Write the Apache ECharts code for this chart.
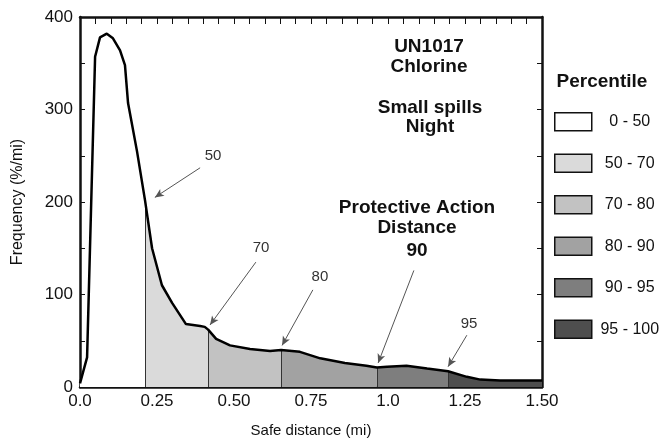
<!DOCTYPE html>
<html>
<head>
<meta charset="utf-8">
<script src="https://cdn.jsdelivr.net/npm/echarts@6/dist/echarts.min.js"></script>
<style>
  html, body { margin: 0; padding: 0; background: #fff; }
  #container { width: 666px; height: 447px; }
</style>
</head>
<body>
<div id="container"></div>
<script>
// frequency curve: [safe distance (mi), frequency (%/mi)]
var curve = [
  [0.000, 4], [0.023, 32], [0.049, 357], [0.065, 378], [0.087, 382],
  [0.107, 377], [0.130, 364], [0.146, 348], [0.156, 307], [0.185, 255],
  [0.211, 202], [0.234, 150], [0.266, 110], [0.299, 91], [0.344, 68],
  [0.390, 66], [0.405, 65], [0.416, 62], [0.442, 52], [0.487, 45],
  [0.552, 41], [0.617, 39], [0.653, 40], [0.714, 38], [0.780, 31],
  [0.860, 26], [0.930, 23], [0.964, 21], [0.997, 22], [1.060, 23],
  [1.127, 20], [1.195, 17], [1.256, 11], [1.300, 8], [1.364, 7],
  [1.500, 7]
];
// percentile boundaries on the x axis
var bounds = [0, 0.211, 0.416, 0.653, 0.964, 1.195, 1.5];
var bandNames = ['0 - 50', '50 - 70', '70 - 80', '80 - 90', '90 - 95', '95 - 100'];
var bandColors = ['#ffffff', '#dadada', '#c2c2c2', '#a2a2a2', '#7e7e7e', '#4e4e4e'];
var xTickLabels = {0: '0.0', 0.25: '0.25', 0.5: '0.50', 0.75: '0.75', 1: '1.0', 1.25: '1.25', 1.5: '1.50'};
// arrows: [label, start x, start y, end x, end y, label x, label y]
var arrows = [
  ['50', 0.390, 237, 0.243, 205, 0.432, 250],
  ['70', 0.571, 135, 0.422, 67, 0.588, 150],
  ['80', 0.756, 105, 0.656, 45, 0.779, 119],
  ['',   1.084, 126, 0.968, 26, 0, 0],
  ['95', 1.256, 56, 1.195, 22, 1.263, 68]
];

var dom = document.getElementById('container');
var myChart = echarts.init(dom, null, { renderer: 'canvas' });
var font = 'Liberation Sans, Arial, sans-serif';

function yAt(x) {
  for (var i = 0; i < curve.length; i++) {
    if (curve[i][0] === x) return curve[i][1];
  }
  return 0;
}

var series = [];
for (var b = 0; b < bandNames.length; b++) {
  var lo = bounds[b], hi = bounds[b + 1];
  series.push({
    name: bandNames[b],
    type: 'line',
    data: curve.filter(function (p) { return p[0] >= lo && p[0] <= hi; }),
    symbol: 'none',
    lineStyle: { width: 0, color: bandColors[b] },
    itemStyle: { color: bandColors[b] },
    areaStyle: { color: bandColors[b], opacity: 1 },
    silent: true,
    z: 2
  });
}

var dividers = bounds.slice(1, bounds.length - 1).map(function (x) {
  return [{ coord: [x, 0] }, { coord: [x, yAt(x)] }];
});

series.push({
  name: 'curve',
  type: 'line',
  data: curve,
  symbol: 'none',
  lineStyle: { width: 2.5, color: '#000' },
  z: 5,
  markLine: {
    silent: true,
    symbol: 'none',
    label: { show: false },
    lineStyle: { color: '#333', width: 1, type: 'solid' },
    data: dividers
  }
});

series.push({
  name: 'arrows',
  type: 'line',
  data: [],
  z: 6,
  markLine: {
    silent: true,
    symbol: ['none', 'arrow'],
    symbolSize: [6, 9],
    label: { show: false },
    lineStyle: { color: '#555', width: 1, type: 'solid' },
    data: arrows.map(function (a) {
      return [{ coord: [a[1], a[2]] }, { coord: [a[3], a[4]] }];
    })
  },
  markPoint: {
    silent: true,
    symbolSize: 0,
    label: { show: true, color: '#333', fontSize: 15, fontFamily: font, position: 'inside' },
    data: arrows.filter(function (a) { return a[0] !== ''; }).map(function (a) {
      return { coord: [a[5], a[6]], value: a[0] };
    })
  }
});

var boldText = { fontFamily: font, fontWeight: 'bold', fontSize: 19, fill: '#111', textAlign: 'center', textVerticalAlign: 'middle' };
function txt(s, x, y, size) {
  var st = Object.assign({}, boldText, { text: s });
  if (size) st.fontSize = size;
  return { type: 'text', x: x, y: y, style: st };
}

var tickStyle = { color: '#111', width: 1 };

var option = {
  backgroundColor: '#fff',
  animation: false,
  grid: { left: 80, right: 124, top: 17, bottom: 60 },
  legend: {
    data: bandNames,
    orient: 'vertical',
    left: 554,
    top: 112,
    padding: 0,
    icon: 'rect',
    itemWidth: 37,
    itemHeight: 18,
    itemGap: 22,
    selectedMode: false,
    itemStyle: { borderColor: '#111', borderWidth: 1.5 },
    formatter: function (n) { return '{c|' + n + '}'; },
    textStyle: {
      fontFamily: font, fontSize: 16, color: '#111',
      rich: { c: { width: 66, align: 'center', fontFamily: font, fontSize: 16, color: '#111', lineHeight: 18 } }
    }
  },
  graphic: [
    txt('Percentile', 602, 82),
    txt('UN1017', 429, 47),
    txt('Chlorine', 429, 67),
    txt('Small spills', 430, 108),
    txt('Night', 430, 127),
    txt('Protective Action', 417, 208),
    txt('Distance', 417, 228),
    txt('90', 417, 251)
  ],
  xAxis: [{
    type: 'value',
    min: 0, max: 1.5, interval: 0.25,
    name: 'Safe distance (mi)',
    nameLocation: 'middle',
    nameGap: 36,
    nameTextStyle: { fontFamily: font, fontSize: 15, color: '#111' },
    axisLine: { onZero: false, lineStyle: { color: '#111', width: 2.5 } },
    axisTick: { inside: true, length: 7, lineStyle: tickStyle },
    minorTick: { show: true, splitNumber: 5, length: 7, lineStyle: tickStyle },
    axisLabel: {
      fontFamily: font, fontSize: 17, color: '#111', margin: 6,
      formatter: function (v) { return xTickLabels[v] !== undefined ? xTickLabels[v] : ''; }
    },
    splitLine: { show: false }
  }, {
    type: 'value',
    position: 'top',
    min: 0, max: 1.5, interval: 0.25,
    axisLine: { onZero: false, lineStyle: { color: '#111', width: 2.5 } },
    axisTick: { inside: true, length: 7, lineStyle: tickStyle },
    minorTick: { show: true, splitNumber: 5, length: 7, lineStyle: tickStyle },
    axisLabel: { show: false },
    splitLine: { show: false }
  }],
  yAxis: [{
    type: 'value',
    min: 0, max: 400, interval: 100,
    name: 'Frequency (%/mi)',
    nameLocation: 'middle',
    nameGap: 54,
    nameTextStyle: { fontFamily: font, fontSize: 16, color: '#111' },
    axisLine: { show: true, onZero: false, lineStyle: { color: '#111', width: 2.5 } },
    axisTick: { show: true, inside: true, length: 5, lineStyle: tickStyle },
    minorTick: { show: true, splitNumber: 2, length: 5, lineStyle: tickStyle },
    axisLabel: { fontFamily: font, fontSize: 17, color: '#111', margin: 7 },
    splitLine: { show: false }
  }, {
    type: 'value',
    position: 'right',
    min: 0, max: 400, interval: 100,
    axisLine: { show: true, onZero: false, lineStyle: { color: '#111', width: 2.5 } },
    axisTick: { show: true, inside: true, length: 5, lineStyle: tickStyle },
    minorTick: { show: true, splitNumber: 2, length: 5, lineStyle: tickStyle },
    axisLabel: { show: false },
    splitLine: { show: false }
  }],
  series: series
};

myChart.setOption(option);
window.addEventListener('resize', myChart.resize);
</script>
</body>
</html>
